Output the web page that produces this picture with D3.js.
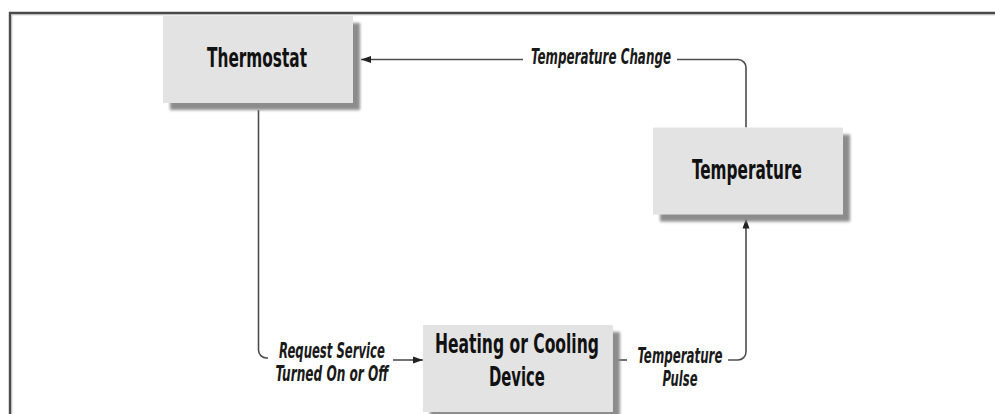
<!DOCTYPE html>
<html>
<head>
<meta charset="utf-8">
<script src="https://cdnjs.cloudflare.com/ajax/libs/d3/7.8.5/d3.min.js"></script>
<style>
	html, body { margin: 0; padding: 0; background: #fff; }
	svg { display: block; }
	.node text { font-family: "DejaVu Sans Condensed", "DejaVu Sans", sans-serif; font-stretch: condensed; font-weight: bold; fill: #111; }
	.edge text { font-family: "DejaVu Sans Condensed", "DejaVu Sans", sans-serif; font-stretch: condensed; font-style: italic; font-weight: bold; fill: #1a1a1a; }
</style>
</head>
<body>
<div id="chart"></div>
<script>
// diagram content
const nodeNames = ['Thermostat', 'Temperature', 'Heating or Cooling|Device'];
const edgeLabels = ['Temperature Change', 'Request Service|Turned On or Off', 'Temperature|Pulse'];
const edgeLinks = [[1, 0], [0, 2], [2, 1]];

const width = 995, height = 414;

// layout (grid columns/rows -> pixels)
const col = d3.scaleLinear().domain([0, 2]).range([163, 653]);
const row = d3.scaleLinear().domain([0, 2]).range([16, 325]);
const boxW = 190, boxH = 87, shadow = 7;

const nodeLayout = [
	{ c: 0, r: 0, lens: [100] },
	{ c: 2, r: 0.722, lens: [110] },
	{ c: 1.061, r: 2, lens: [164, 56] }
];

const svg = d3.select('#chart').append('svg')
	.attr('width', width)
	.attr('height', height);

const defs = svg.append('defs');
defs.append('filter')
		.attr('id', 'blur')
		.attr('x', '-10%').attr('y', '-10%')
		.attr('width', '130%').attr('height', '130%')
	.append('feGaussianBlur')
		.attr('stdDeviation', 1.6);

defs.append('marker')
		.attr('id', 'arrow')
		.attr('viewBox', '0 0 10 8')
		.attr('refX', 10).attr('refY', 4)
		.attr('markerUnits', 'userSpaceOnUse')
		.attr('markerWidth', 10).attr('markerHeight', 8)
		.attr('orient', 'auto')
	.append('path')
		.attr('d', 'M0,0.5L10,4L0,7.5Z')
		.attr('fill', '#222');

// outer frame
svg.append('path')
	.attr('d', `M10,${height + 5}V13H${width + 5}`)
	.attr('fill', 'none')
	.attr('stroke', '#4a4a4a')
	.attr('stroke-width', 2.4);
svg.append('path')
	.attr('d', `M11.8,${height + 5}V14.8H${width + 5}`)
	.attr('fill', 'none')
	.attr('stroke', '#b8b8b8')
	.attr('stroke-width', 1);

const boxes = nodeNames.map((name, i) => {
	const l = nodeLayout[i];
	const x = col(l.c), y = row(l.r);
	return { name, lines: name.split('|'), lens: l.lens, x, y, cx: x + boxW / 2, cy: y + boxH / 2 };
});

// squeeze a text horizontally to a given width around its x
const fitWidth = (sel, lens) => {
	sel.each(function (s, k) {
		const el = d3.select(this);
		const w = this.getComputedTextLength();
		const x = +el.attr('x');
		const sx = lens[k] / w;
		el.attr('transform', `translate(${x * (1 - sx)},0) scale(${sx},1)`);
	});
};

// connectors
const lineColor = '#4d4d4d';
const edgeG = svg.selectAll('g.edge').data(edgeLinks).join('g').attr('class', 'edge');

const rounded = (pts, r) => {
	const p = d3.path();
	p.moveTo(pts[0][0], pts[0][1]);
	for (let k = 1; k < pts.length - 1; k++) {
		p.arcTo(pts[k][0], pts[k][1], pts[k + 1][0], pts[k + 1][1], r);
	}
	p.lineTo(pts[pts.length - 1][0], pts[pts.length - 1][1]);
	return p.toString();
};

const t = boxes[0], tp = boxes[1], hc = boxes[2];
const topY = t.cy;
const lowY = hc.y + 35;
const rightX = tp.cx - 2;
const leftX = t.cx + 0.5;

const segments = [
	// Temperature -> Thermostat
	[
		{ pts: [[rightX, tp.y], [rightX, topY], [677, topY]] },
		{ pts: [[523, topY], [t.x + boxW + shadow + 1, topY]], arrow: true }
	],
	// Thermostat -> Heating or Cooling
	[
		{ pts: [[leftX, t.y + boxH + shadow], [leftX, lowY - 2], [268, lowY - 2]] },
		{ pts: [[393, lowY], [hc.x, lowY]], arrow: true }
	],
	// Heating or Cooling -> Temperature
	[
		{ pts: [[hc.x + boxW, lowY], [627, lowY]] },
		{ pts: [[728, lowY], [rightX, lowY], [rightX, tp.y + boxH + shadow - 3]], arrow: true }
	]
];

const labelPos = [
	{ x: 601, y: topY + 5, lens: [140] },
	{ x: 332, y: lowY - 2, lens: [106, 113] },
	{ x: 680, y: lowY + 3, lens: [85, 35] }
];

edgeG.each(function (d, i) {
	const g = d3.select(this);
	segments[i].forEach(s => {
		g.append('path')
			.attr('d', rounded(s.pts, 8))
			.attr('fill', 'none')
			.attr('stroke', lineColor)
			.attr('stroke-width', 1.6)
			.attr('marker-end', s.arrow ? 'url(#arrow)' : null);
	});
	const lp = labelPos[i];
	const lines = edgeLabels[i].split('|');
	g.selectAll('text').data(lines).join('text')
		.attr('x', lp.x)
		.attr('y', (s, k) => lp.y + k * 23)
		.attr('text-anchor', 'middle')
		.style('font-size', '20.5px')
		.text(s => s)
		.call(fitWidth, lp.lens);
});

// boxes
const nodeG = svg.selectAll('g.node').data(boxes).join('g').attr('class', 'node');

nodeG.append('rect')
	.attr('x', d => d.x + shadow)
	.attr('y', d => d.y + shadow)
	.attr('width', boxW)
	.attr('height', boxH)
	.attr('fill', '#8c8c8c')
	.attr('filter', 'url(#blur)');

nodeG.append('rect')
	.attr('x', d => d.x)
	.attr('y', d => d.y)
	.attr('width', boxW)
	.attr('height', boxH)
	.attr('fill', '#e3e3e3');

nodeG.each(function (d) {
	const n = d.lines.length;
	const base = n === 1 ? d.cy + 8 : d.y + 28;
	d3.select(this).selectAll('text').data(d.lines).join('text')
		.attr('x', d.cx - 1)
		.attr('y', (s, k) => base + k * 33)
		.attr('text-anchor', 'middle')
		.style('font-size', '26px')
		.text(s => s)
		.call(fitWidth, d.lens);
});
</script>
</body>
</html>
